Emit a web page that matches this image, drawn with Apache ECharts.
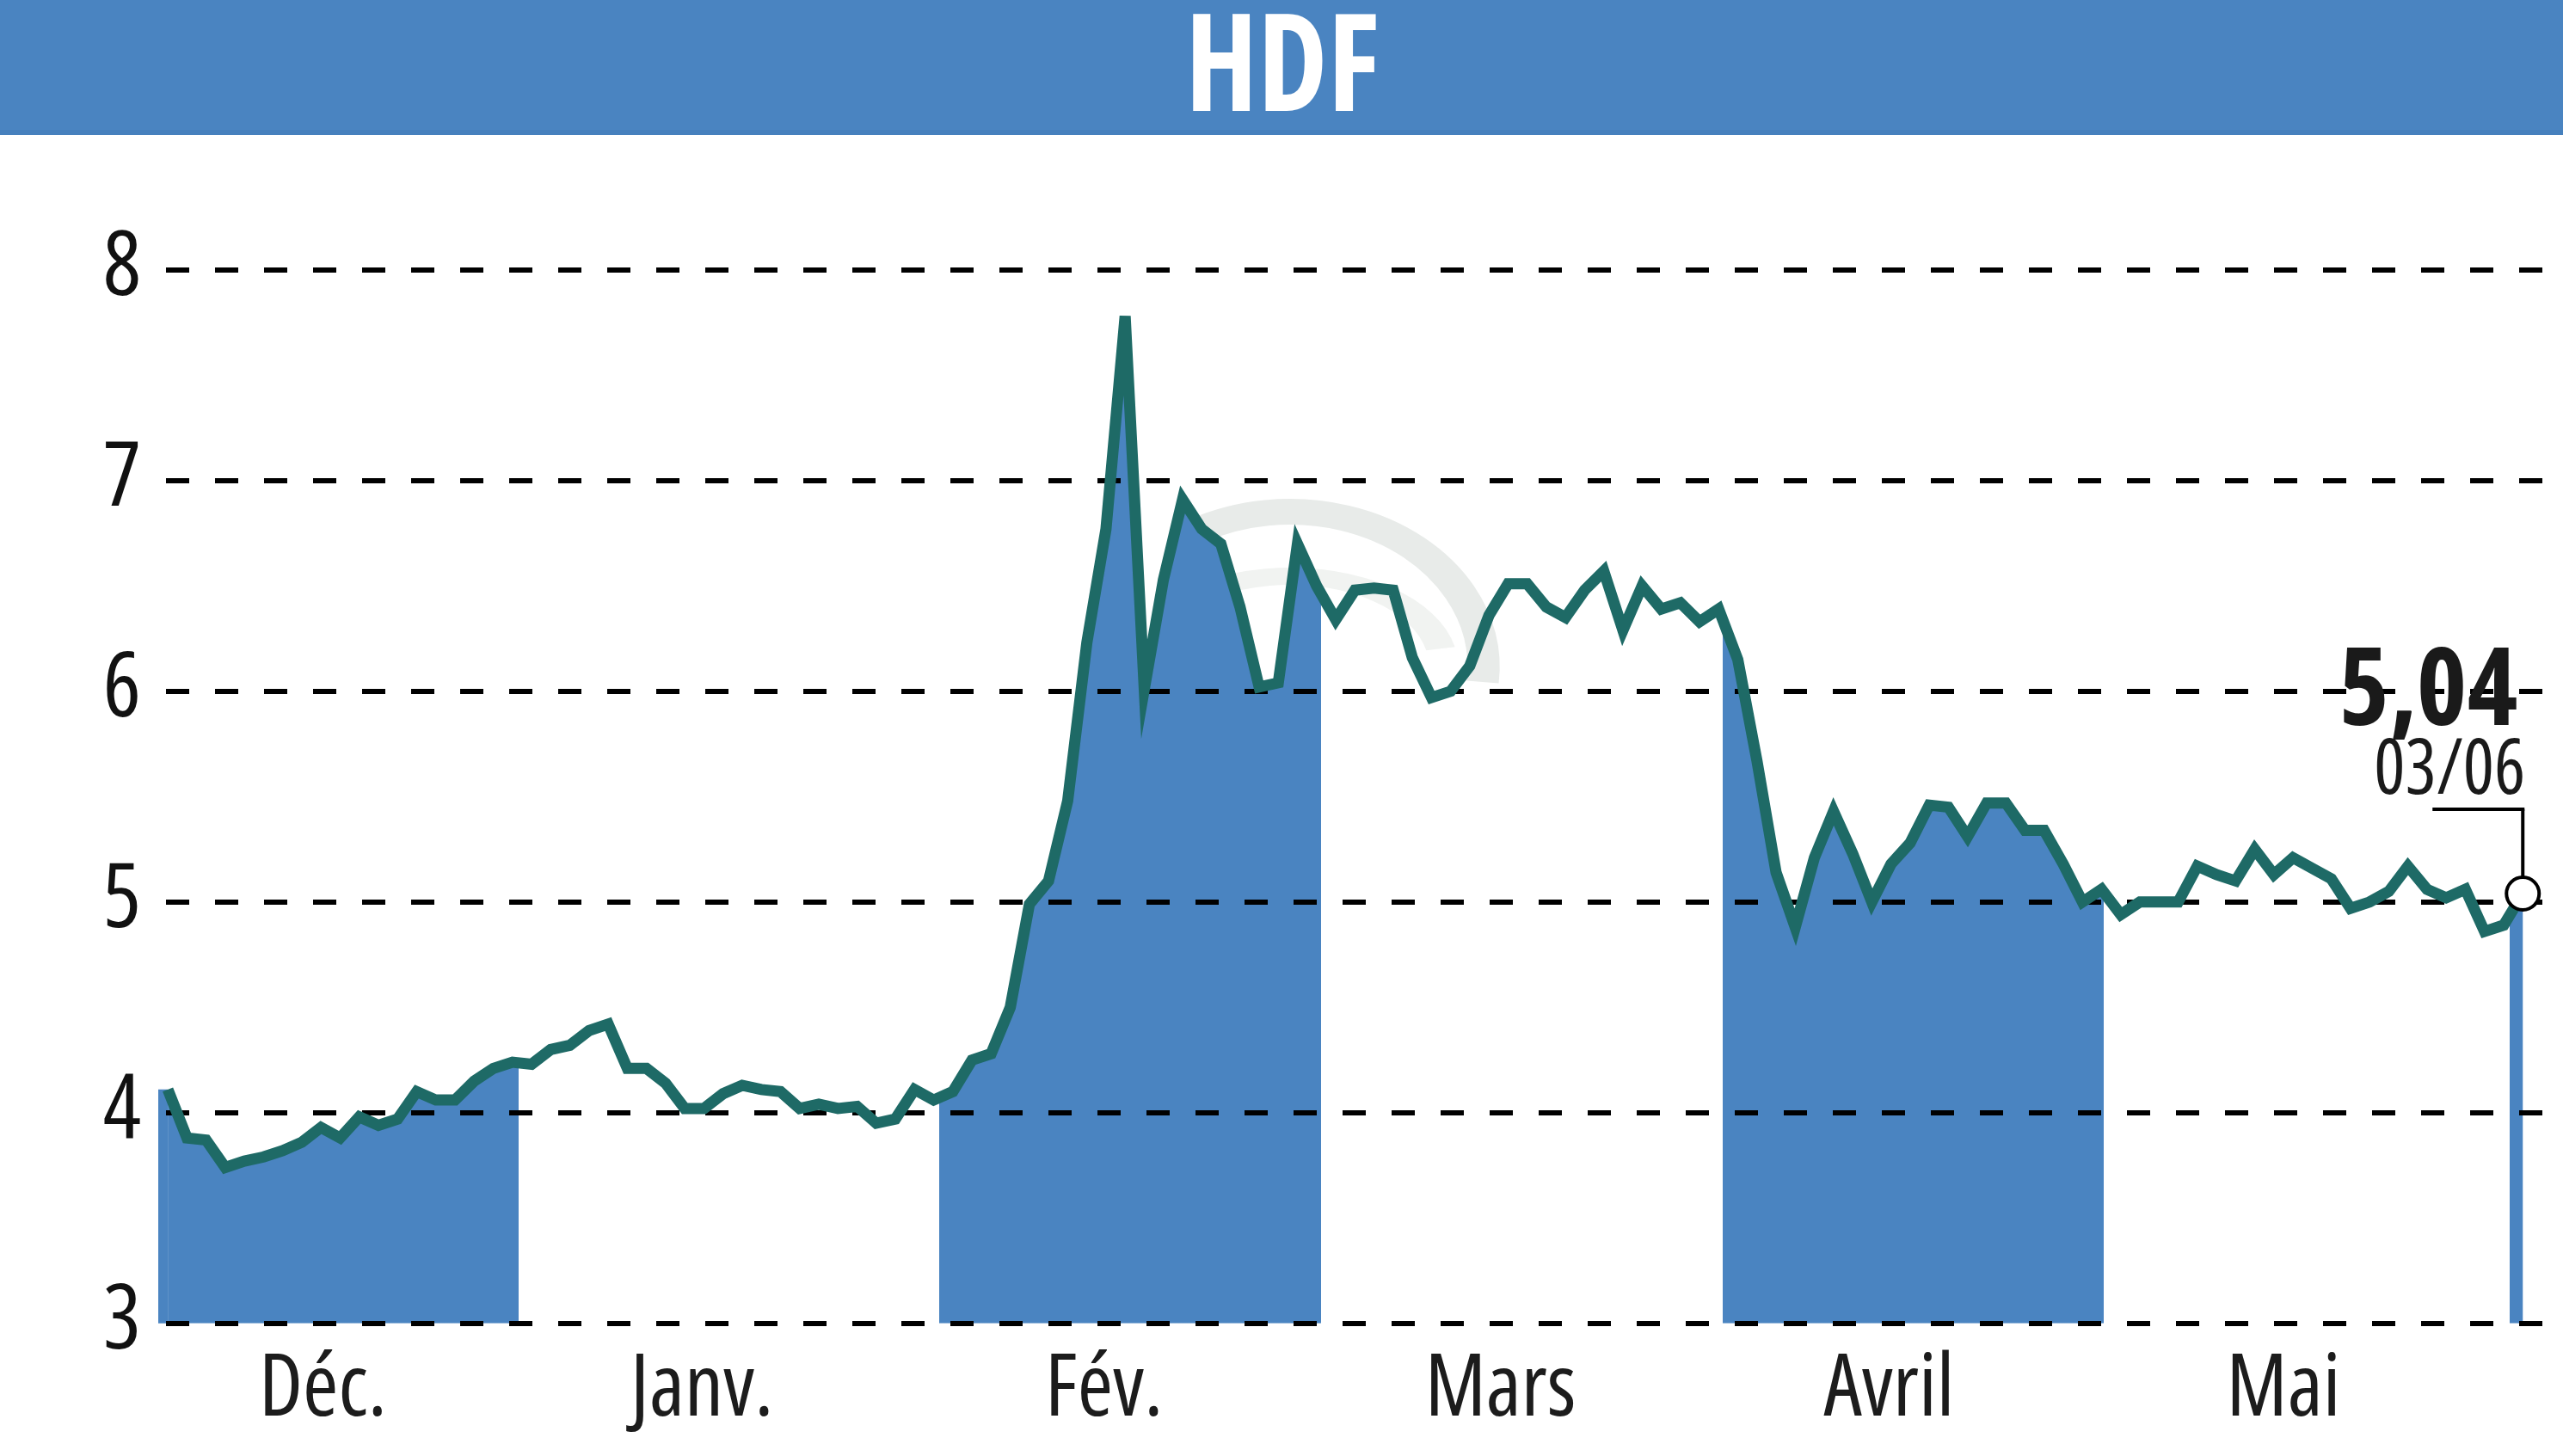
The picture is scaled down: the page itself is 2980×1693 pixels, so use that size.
<!DOCTYPE html>
<html>
<head>
<meta charset="utf-8">
<script src="https://cdn.jsdelivr.net/npm/echarts@6/dist/echarts.min.js"></script>
<style>
html,body{margin:0;padding:0;background:#fff;}
#chart{width:2980px;height:1693px;}
</style>
</head>
<body>
<div id="chart"></div>
<script>
// ---- data ----
const titleText = 'HDF';
const monthNames = ['Déc.', 'Janv.', 'Fév.', 'Mars', 'Avril', 'Mai'];
const monthLabelPos = [8.1, 27.9, 48.9, 69.6, 89.9, 110.5];
const monthBounds = [-0.5, 18.3, 40.3, 60.25, 81.2, 101.1, 122.3, 123.3];
const bandShaded = [true, false, true, false, true, false, true];
const yTicks = [3, 4, 5, 6, 7, 8];
const prices = [
  4.11, 3.88, 3.87, 3.74, 3.77, 3.79, 3.82, 3.86, 3.93, 3.88,
  3.98, 3.94, 3.97, 4.10, 4.06, 4.06, 4.15, 4.21, 4.24, 4.23,
  4.30, 4.32, 4.39, 4.42, 4.21, 4.21, 4.14, 4.02, 4.02, 4.09,
  4.13, 4.11, 4.10, 4.02, 4.04, 4.02, 4.03, 3.95, 3.97, 4.11,
  4.06, 4.10, 4.25, 4.28, 4.50, 4.99, 5.10, 5.48, 6.23, 6.77,
  7.78, 6.01, 6.53, 6.91, 6.77, 6.70, 6.40, 6.02, 6.04, 6.70,
  6.50, 6.34, 6.48, 6.49, 6.48, 6.16, 5.97, 6.00, 6.12, 6.36,
  6.51, 6.51, 6.40, 6.35, 6.48, 6.57, 6.29, 6.50, 6.39, 6.42,
  6.33, 6.39, 6.15, 5.67, 5.14, 4.88, 5.21, 5.43, 5.23, 5.00,
  5.18, 5.28, 5.46, 5.45, 5.31, 5.47, 5.47, 5.34, 5.34, 5.18,
  5.00, 5.06, 4.94, 5.00, 5.00, 5.00, 5.17, 5.13, 5.10, 5.25,
  5.13, 5.21, 5.16, 5.11, 4.97, 5.00, 5.05, 5.17, 5.06, 5.02,
  5.06, 4.86, 4.89, 5.04
];
const lastValueText = '5,04';
const lastDateText = '03/06';

// ---- styles ----
const BLUE = '#4a84c1';
const TEAL = '#1e6a66';
const FAMILY = '"Open Sans", "Liberation Sans", sans-serif';

// helper: horizontal scale so a text string gets a given width
const mctx = document.createElement('canvas').getContext('2d');
function fitScale(text, font, targetWidth) {
  mctx.font = font;
  const w = mctx.measureText(text).width;
  return w > 0 ? targetWidth / w : 1;
}

const seriesData = prices.map((v, i) => [i, v]);
const lastIdx = prices.length - 1;

const pieces = [];
for (let k = 0; k < bandShaded.length; k++) {
  pieces.push({
    gte: monthBounds[k],
    lt: monthBounds[k + 1],
    color: bandShaded[k] ? BLUE : 'rgba(255,255,255,0)'
  });
}

const chart = echarts.init(document.getElementById('chart'), null, {renderer: 'canvas'});

const option = {
  animation: false,
  backgroundColor: '#ffffff',
  grid: {left: 184, right: 0, top: 313.8, bottom: 154.2, containLabel: false, outerBoundsMode: 'none'},
  xAxis: {
    type: 'value',
    min: -0.5,
    max: 125.1,
    axisLine: {show: false},
    axisTick: {show: false},
    splitLine: {show: false},
    axisLabel: {
      customValues: monthLabelPos,
      formatter: function (val) {
        const k = monthLabelPos.indexOf(val);
        return k >= 0 ? monthNames[k] : '';
      },
      fontFamily: FAMILY,
      fontStyle: 'condensed',
      fontSize: 100,
      color: '#1c1c1c',
      margin: 29
    }
  },
  yAxis: {
    type: 'value',
    min: yTicks[0],
    max: yTicks[yTicks.length - 1],
    interval: 1,
    z: 3,
    axisLine: {show: false},
    axisTick: {show: false},
    axisLabel: {
      fontFamily: FAMILY,
      fontStyle: 'condensed',
      fontSize: 104,
      color: '#111111',
      margin: 20
    },
    splitLine: {
      show: true,
      showMinLine: true,
      showMaxLine: true,
      lineStyle: {color: '#000000', width: 6, type: [27, 30], dashOffset: 48}
    }
  },
  visualMap: {
    show: false,
    type: 'piecewise',
    dimension: 0,
    seriesIndex: 0,
    pieces: pieces,
    outOfRange: {color: 'rgba(255,255,255,0)'}
  },
  series: [
    {
      type: 'line',
      data: seriesData,
      z: 1,
      showSymbol: false,
      symbol: 'none',
      silent: true,
      lineStyle: {width: 0, opacity: 0},
      areaStyle: {opacity: 1, origin: 'start'},
      markArea: {
        silent: true,
        itemStyle: {color: BLUE, opacity: 1},
        data: [[{coord: [-0.5, yTicks[0]]}, {coord: [0, prices[0]]}]]
      }
    },
    {
      type: 'line',
      data: seriesData,
      z: 5,
      showSymbol: false,
      symbol: 'none',
      silent: true,
      lineStyle: {color: TEAL, width: 13, join: 'miter', cap: 'butt'}
    },
    {
      type: 'scatter',
      data: [seriesData[lastIdx]],
      z: 6,
      symbol: 'circle',
      symbolSize: 38,
      silent: true,
      itemStyle: {color: '#ffffff', borderColor: '#000000', borderWidth: 4, opacity: 1}
    }
  ]
};
chart.setOption(option);

// annotation + title bar, anchored on the last data point
const p = chart.convertToPixel({seriesIndex: 2}, seriesData[lastIdx]);
const px = p[0], py = p[1];
const elbowY = py - 98;
const titleFont = 'condensed bold 158px ' + FAMILY;
const valueFont = 'condensed bold 126px ' + FAMILY;
const dateFont = 'condensed 90px ' + FAMILY;
chart.setOption({
  graphic: [
    {type: 'rect', shape: {x: 0, y: 0, width: 2980, height: 157}, style: {fill: BLUE}, z: 10},
    {type: 'rect', shape: {x: 0, y: 151, width: 2980, height: 6}, style: {fill: '#4680bd'}, z: 10},
    {
      type: 'text', x: 1491, y: 84, scaleX: fitScale(titleText, titleFont, 226), z: 11,
      style: {text: titleText, fill: '#ffffff', font: titleFont, align: 'center', verticalAlign: 'middle'}
    },
    // faint watermark (two elliptical arcs)
    {
      type: 'arc', z: -1, silent: true, x: 1500, y: 775, scaleX: 1.25,
      shape: {cx: 0, cy: 0, r: 180, startAngle: -2.07, endAngle: 0.1, clockwise: true},
      style: {stroke: '#e8ebe9', lineWidth: 30, fill: null}
    },
    {
      type: 'arc', z: -1, silent: true, x: 1500, y: 775, scaleX: 1.7,
      shape: {cx: 0, cy: 0, r: 105, startAngle: -2.5, endAngle: -0.2, clockwise: true},
      style: {stroke: '#f1f3f1', lineWidth: 20, fill: null}
    },
    {type: 'line', shape: {x1: px, y1: py - 19, x2: px, y2: elbowY}, style: {stroke: '#000', lineWidth: 4}, z: 7},
    {type: 'line', shape: {x1: px + 2, y1: elbowY, x2: px - 105, y2: elbowY}, style: {stroke: '#000', lineWidth: 4}, z: 7},
    {
      type: 'text', x: px - 6, y: py - 232, scaleX: fitScale(lastValueText, valueFont, 208), z: 7,
      style: {text: lastValueText, fill: '#1a1a1a', font: valueFont, align: 'right', verticalAlign: 'middle'}
    },
    {
      type: 'text', x: px + 3, y: py - 142, scaleX: fitScale(lastDateText, dateFont, 176), z: 7,
      style: {text: lastDateText, fill: '#1a1a1a', font: dateFont, align: 'right', verticalAlign: 'middle'}
    }
  ]
});
</script>
</body>
</html>
